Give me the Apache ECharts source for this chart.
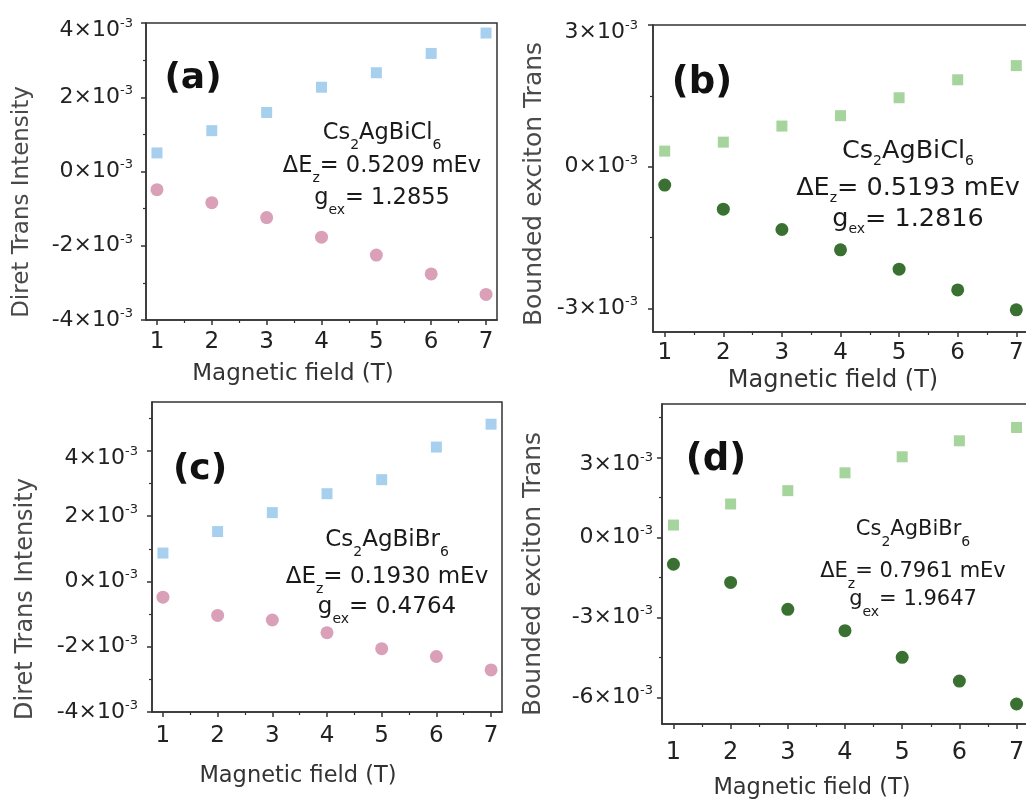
<!DOCTYPE html>
<html><head><meta charset="utf-8">
<script src="https://cdn.jsdelivr.net/npm/echarts@6/dist/echarts.min.js"></script>
<style>html,body{margin:0;padding:0;background:#fff}#c{width:1026px;height:808px}</style>
</head><body><div id="c"></div>
<script>
// ---- data (y values in units of 10^-3) ----
const field = [1, 2, 3, 4, 5, 6, 7];
const fieldMinor = [1.5, 2.5, 3.5, 4.5, 5.5, 6.5];

const aUp   = [0.50, 1.10, 1.59, 2.27, 2.66, 3.18, 3.73];
const aDown = [-0.49, -0.84, -1.24, -1.77, -2.25, -2.76, -3.31];
const bUp   = [0.33, 0.52, 0.86, 1.08, 1.46, 1.84, 2.14];
const bDown = [-0.39, -0.90, -1.33, -1.76, -2.17, -2.61, -3.03];
const cUp   = [0.87, 1.53, 2.11, 2.69, 3.12, 4.12, 4.82];
const cDown = [-0.48, -1.04, -1.18, -1.57, -2.06, -2.30, -2.71];
const dUp   = [0.46, 1.25, 1.75, 2.42, 3.02, 3.62, 4.12];
const dDown = [-1.01, -1.69, -2.70, -3.50, -4.50, -5.39, -6.25];

const aTicks = [-4, -2, 0, 2, 4];   const aMinor = [-3, -1, 1, 3];
const bTicks = [-3, 0, 3];          const bMinor = [-1.5, 1.5];
const cTicks = [-4, -2, 0, 2, 4];   const cMinor = [-3, -1, 1, 3, 5];
const dTicks = [-6, -3, 0, 3];      const dMinor = [-4.5, -1.5, 1.5, 4.5];

const panelTags = ['(a)', '(b)', '(c)', '(d)'];
const yTitles = ['Diret Trans Intensity', 'Bounded exciton Trans', 'Diret Trans Intensity', 'Bounded exciton Trans'];
const xTitle = 'Magnetic field (T)';
const compounds = [['Cs','2','AgBiCl','6'], ['Cs','2','AgBiCl','6'], ['Cs','2','AgBiBr','6'], ['Cs','2','AgBiBr','6']];
const deltaE = ['0.5209', '0.5193', '0.1930', '0.7961'];
const gex = ['1.2855', '1.2816', '0.4764', '1.9647'];

// ---- layout / style ----
const FONT = 'DejaVu Sans';
const AX = '#333';
const BLUE = '#a7d0ee', PINK = '#d9a0b8', LGREEN = '#a5d49c', DGREEN = '#3a7133';

const panels = [
  {grid:{left:146, top:23, width:351, height:297}, yMin:-4, yMax:4, ticks:aTicks, minor:aMinor, up:aUp, down:aDown, cu:BLUE, cd:PINK,
   xm:11, ym:13, xfs:23, yfs:22,
   tag:[193,79,36], yt:[22,202,23], xt:[293,374,23], ann:{x:382, ys:[137,170,202], fs:22.5}},
  {grid:{left:653, top:25, width:375, height:307}, yMin:-3.5, yMax:3, ticks:bTicks, minor:bMinor, up:bUp, down:bDown, cu:LGREEN, cd:DGREEN,
   xm:10, ym:15, xfs:23, yfs:22,
   tag:[702,83,37], yt:[534,184,25], xt:[833,381,24], ann:{x:908, ys:[153,190,221], fs:25.5}},
  {grid:{left:152, top:402, width:350, height:310}, yMin:-4, yMax:5.5, ticks:cTicks, minor:cMinor, up:cUp, down:cDown, cu:BLUE, cd:PINK,
   xm:13, ym:14, xfs:23, yfs:22,
   tag:[200,470,36], yt:[26,599,24], xt:[298,776,22.5], ann:{x:387, ys:[544,581,611], fs:23}},
  {grid:{left:662, top:404, width:366, height:320}, yMin:-7, yMax:5, ticks:dTicks, minor:dMinor, up:dUp, down:dDown, cu:LGREEN, cd:DGREEN,
   xm:17, ym:9, xfs:24, yfs:22,
   tag:[716,460,37], yt:[533,574,25], xt:[812,788,22.5], ann:{x:913, ys:[534,576,604], fs:21}}
];

const grids = [], xAxes = [], yAxes = [], series = [], graphics = [];

panels.forEach((p, i) => {
  grids.push(Object.assign({show:true, borderColor:AX, borderWidth:1.5, backgroundColor:'transparent'}, p.grid));
  const topVal = p.ticks[p.ticks.length - 1];
  const yLabelRich = {
    b:{fontFamily:FONT, fontSize:p.yfs, color:'#222', lineHeight:26, verticalAlign:'middle'},
    s:{fontFamily:FONT, fontSize:13, color:'#222', lineHeight:13, verticalAlign:'top'},
    g:{fontSize:10, lineHeight:14}
  };
  xAxes.push({gridIndex:i, type:'value', min:0.8, max:7.2, position:'bottom',
    axisLine:{show:true, onZero:false, lineStyle:{color:AX, width:1.5}},
    axisTick:{show:true, customValues:field, length:5, lineStyle:{color:AX, width:1.5}},
    axisLabel:{show:true, customValues:field, margin:p.xm, fontFamily:FONT, fontSize:p.xfs, color:'#222'},
    splitLine:{show:false}});
  xAxes.push({gridIndex:i, type:'value', min:0.8, max:7.2, position:'bottom',
    axisLine:{show:false, onZero:false},
    axisTick:{show:true, customValues:fieldMinor, length:3, lineStyle:{color:AX, width:1.2}},
    axisLabel:{show:false}, splitLine:{show:false}});
  yAxes.push({gridIndex:i, type:'value', min:p.yMin, max:p.yMax, position:'left',
    axisLine:{show:true, onZero:false, lineStyle:{color:AX, width:1.5}},
    axisTick:{show:true, customValues:p.ticks, length:5, lineStyle:{color:AX, width:1.5}},
    axisLabel:{show:true, customValues:p.ticks, margin:p.ym, rich:yLabelRich,
      formatter: v => (v === topVal ? '{g| }\n' : '') + '{b|' + String(v) + '×10}{s|-3}'},
    splitLine:{show:false}});
  yAxes.push({gridIndex:i, type:'value', min:p.yMin, max:p.yMax, position:'left',
    axisLine:{show:false, onZero:false},
    axisTick:{show:true, customValues:p.minor, length:3, lineStyle:{color:AX, width:1.2}},
    axisLabel:{show:false}, splitLine:{show:false}});

  series.push({type:'scatter', xAxisIndex:i*2, yAxisIndex:i*2, symbol:'rect', symbolSize:11,
    itemStyle:{color:p.cu, opacity:1}, data:field.map((x, k) => [x, p.up[k]]), silent:true, z:3});
  series.push({type:'scatter', xAxisIndex:i*2, yAxisIndex:i*2, symbol:'circle', symbolSize:13,
    itemStyle:{color:p.cd, opacity:1}, data:field.map((x, k) => [x, p.down[k]]), silent:true, z:3});

  graphics.push({type:'text', x:p.tag[0], y:p.tag[1], z:10,
    style:{text:panelTags[i], fontFamily:FONT, fontWeight:'bold', fontSize:p.tag[2], fill:'#111',
      align:'center', verticalAlign:'middle', textAlign:'center', textVerticalAlign:'middle'}});
  graphics.push({type:'text', x:p.yt[0], y:p.yt[1], rotation:Math.PI/2, z:10,
    style:{text:yTitles[i], fontFamily:FONT, fontSize:p.yt[2], fill:'#4a4a4a',
      align:'center', verticalAlign:'middle', textAlign:'center', textVerticalAlign:'middle'}});
  graphics.push({type:'text', x:p.xt[0], y:p.xt[1], z:10,
    style:{text:xTitle, fontFamily:FONT, fontSize:p.xt[2], fill:'#333',
      align:'center', verticalAlign:'middle', textAlign:'center', textVerticalAlign:'middle'}});
  const fs = p.ann.fs;
  const rich = {
    n:{fontFamily:FONT, fontSize:fs, fill:'#1a1a1a', color:'#1a1a1a', lineHeight:30, verticalAlign:'top'},
    u:{fontFamily:FONT, fontSize:14, fill:'#1a1a1a', color:'#1a1a1a', lineHeight:14, verticalAlign:'bottom'}
  };
  const c = compounds[i];
  const lines = [
    '{n|' + c[0] + '}{u|' + c[1] + '}{n|' + c[2] + '}{u|' + c[3] + '}',
    '{n|ΔE}{u|z}{n|= ' + deltaE[i] + ' mEv}',
    '{n|g}{u|ex}{n|= ' + gex[i] + '}'
  ];
  lines.forEach((t, k) => {
    graphics.push({type:'text', x:p.ann.x, y:p.ann.ys[k], z:10,
      style:{text:t, rich:rich, align:'center', verticalAlign:'middle', textAlign:'center', textVerticalAlign:'middle'}});
  });
});

const chart = echarts.init(document.getElementById('c'), null, {renderer:'canvas'});
chart.setOption({
  animation:false,
  backgroundColor:'#ffffff',
  grid:grids.map(g => Object.assign({outerBoundsMode:'none', containLabel:false}, g)),
  xAxis:xAxes, yAxis:yAxes, series:series, graphic:graphics
});
</script></body></html>
